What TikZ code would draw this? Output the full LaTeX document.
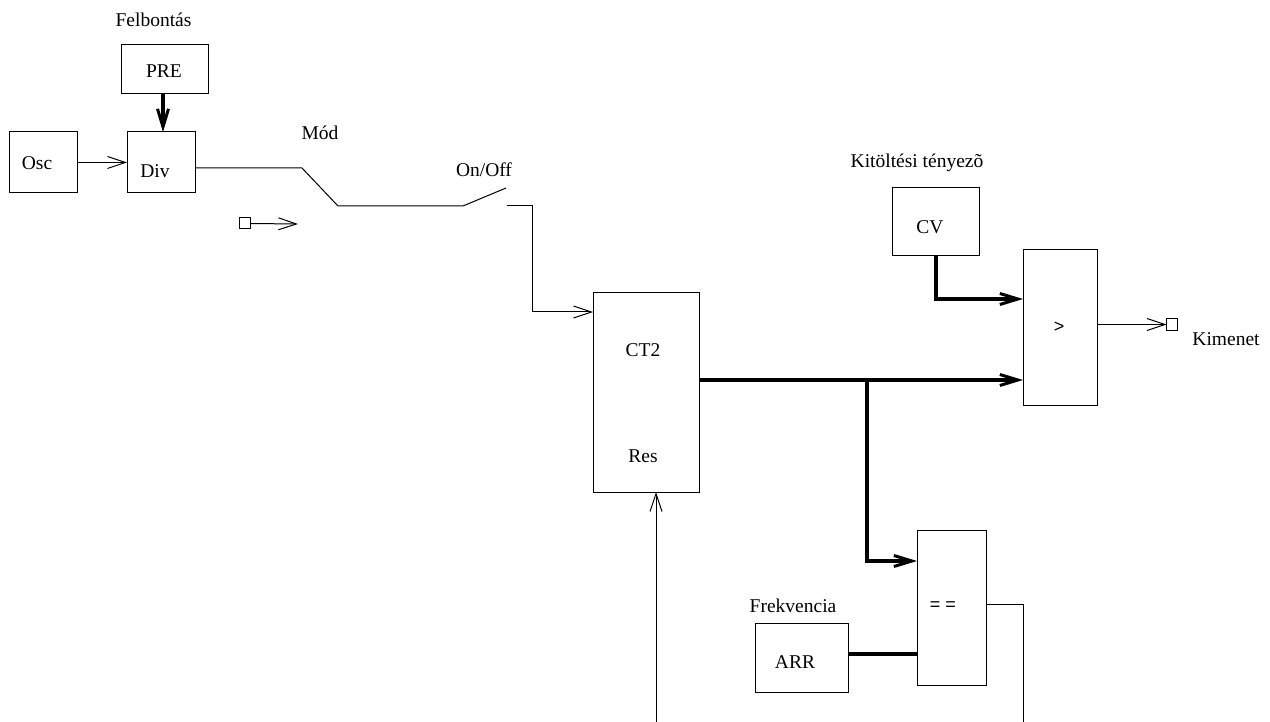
\documentclass[tikz,border=0pt]{standalone}
\usepackage{fontspec}
\setmainfont{Liberation Serif}
\newfontfamily\symfont{Liberation Sans}
\usetikzlibrary{arrows.meta}
\begin{document}
\begin{tikzpicture}[x=1pt,y=-1pt,
  every node/.style={font=\fontsize{19.5}{22}\selectfont},
  blk/.style={draw,line width=1pt,inner sep=0pt,outer sep=0pt},
  txt/.style={inner sep=0pt},
  thin/.style={line width=1pt},
  thick/.style={line width=4pt},
  tip/.style={-{Straight Barb[length=18pt,width=12pt,line width=1pt]}},
  ttip/.style={-{Straight Barb[length=18pt,width=11pt,line width=3pt]}},
  sq/.style={draw,line width=1pt,minimum size=11pt,inner sep=0pt,outer sep=0pt}
]
\useasboundingbox (0,0) rectangle (1270,722);
% blocks
\node[blk,minimum width=87pt,minimum height=49pt] (pre) at (164.5,69.5) {};
\node[blk,minimum width=68pt,minimum height=61pt] (osc) at (43,162.5) {};
\node[blk,minimum width=68pt,minimum height=61pt] (div) at (161,162.5) {};
\node[blk,minimum width=106pt,minimum height=199pt] (ct2) at (646,392.5) {};
\node[blk,minimum width=87pt,minimum height=68pt] (cv) at (935.5,222) {};
\node[blk,minimum width=74pt,minimum height=155pt] (gt) at (1060,327.5) {};
\node[blk,minimum width=69pt,minimum height=155pt] (eq) at (951.5,607.5) {};
\node[blk,minimum width=93pt,minimum height=69pt] (arr) at (801.5,657.5) {};
\node[sq] (insq) at (244.5,223.5) {};
\node[sq] (outsq) at (1172,324.5) {};
% texts
\node[txt] (tpre) at (164,71) {PRE};
\node[txt] (tosc) at (37,163) {Osc};
\node[txt] (tdiv) at (155,171) {Div};
\node[txt] (tct2) at (643,350) {CT2};
\node[txt] (tres) at (643,456) {Res};
\node[txt] (tcv) at (930,227) {CV};
\node[txt] (tarr) at (795,662) {ARR};
\node[txt,font=\symfont\fontsize{18}{20}\selectfont] (tgt) at (1059,327) {>};
\node[txt,font=\symfont\fontsize{18}{20}\selectfont] (teq) at (943,606) {= =};
\node[txt] (lfel) at (153.5,20) {Felbontás};
\node[txt] (lmod) at (320,133) {Mód};
\node[txt] (lonoff) at (484,170) {On/Off};
\node[txt] (lkit) at (917,163) {Kitöltési tényezõ};
\node[txt] (lkim) at (1226,339) {Kimenet};
\node[txt] (lfrek) at (793,606) {Frekvencia};
% coordinates
\coordinate (sw1) at (302,168);
\coordinate (sw2) at (338,206);
\coordinate (sw3) at (463,206);
\coordinate (sw4) at (506,188);
\coordinate (c1) at (507,206);
\coordinate (c2) at (532,206);
\coordinate (c3) at (532,312);
\coordinate (inend) at (298,224);
\coordinate (resin) at (656,722);
\coordinate (eqout1) at (1023,604);
\coordinate (eqout2) at (1023,722);
\coordinate (br) at (867,380);
\coordinate (br2) at (867,561);
\coordinate (cvb) at (936,299);
\coordinate (prex) at (163,0);
% connectors
\draw[thin,tip] (osc.east) -- (div.west);
\draw[thick,ttip] (pre.south -| prex) -- (div.north -| prex);
\draw[thin] (div.east |- sw1) -- (sw1) -- (sw2) -- (sw3) -- (sw4);
\draw[thin,tip] (c1) -- (c2) -- (c3) -- (ct2.west |- c3);
\draw[thin,tip] (insq.east) -- (inend);
\draw[thin,tip] (resin) -- (ct2.south -| resin);
\draw[thick,ttip] (ct2.east |- br) -- (gt.west |- br);
\draw[thick,ttip] (cv.south -| cvb) -- (cvb) -- (gt.west |- cvb);
\draw[thin,tip] (gt.east |- outsq) -- (outsq.west);
\draw[thick,ttip] (br) -- (br2) -- (eq.west |- br2);
\draw[thick] (arr.east |- 0,654) -- (eq.west |- 0,654);
\draw[thin] (eq.east |- eqout1) -- (eqout1) -- (eqout2);
\end{tikzpicture}
\end{document}
